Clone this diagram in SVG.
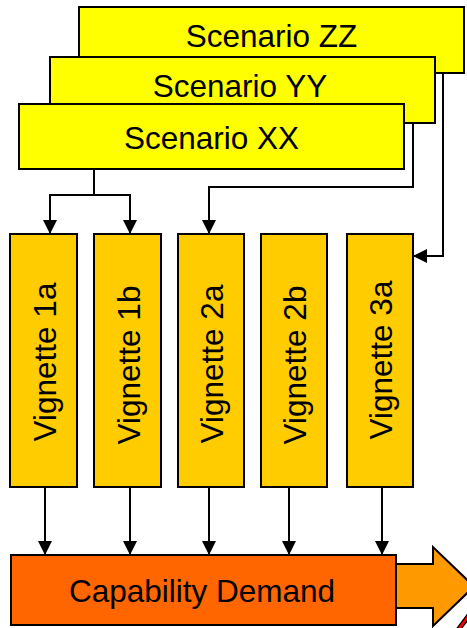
<svg xmlns="http://www.w3.org/2000/svg" width="467" height="628" viewBox="0 0 467 628">
<style>
.box{stroke:#000;stroke-width:2}
.scn{fill:#FFFF00}
.vig{fill:#FFCC00}
.t{font-family:"Liberation Sans",Arial,sans-serif;font-size:31.5px;fill:#000;text-anchor:middle}
.c{fill:none;stroke:#000;stroke-width:2}
</style>
<defs>
<marker id="ah" markerUnits="userSpaceOnUse" markerWidth="14" markerHeight="14" refX="14" refY="7" orient="auto">
<path d="M0,0 L14,7 L0,14 z" fill="#000"/>
</marker>
</defs>
<rect width="467" height="628" fill="#fff"/>
<g id="scenarioZZ">
<rect class="box scn" x="79" y="7" width="385" height="66"/>
<text class="t" x="271.5" y="47">Scenario ZZ</text>
</g>
<g id="scenarioYY">
<rect class="box scn" x="50" y="57" width="385" height="66"/>
<text class="t" x="240" y="97">Scenario YY</text>
</g>
<g id="scenarioXX">
<rect class="box scn" x="19" y="104" width="385" height="65"/>
<text class="t" x="211.5" y="149">Scenario XX</text>
</g>
<g id="vignette1a">
<rect class="box vig" x="10" y="234" width="67" height="253"/>
<text class="t" x="56" y="362" transform="rotate(-90 56 362)">Vignette 1a</text>
</g>
<g id="vignette1b">
<rect class="box vig" x="94" y="234" width="67" height="253"/>
<text class="t" x="140" y="365" transform="rotate(-90 140 365)">Vignette 1b</text>
</g>
<g id="vignette2a">
<rect class="box vig" x="178" y="234" width="66" height="253"/>
<text class="t" x="223" y="364" transform="rotate(-90 223 364)">Vignette 2a</text>
</g>
<g id="vignette2b">
<rect class="box vig" x="261" y="234" width="66" height="253"/>
<text class="t" x="306" y="365" transform="rotate(-90 306 365)">Vignette 2b</text>
</g>
<g id="vignette3a">
<rect class="box vig" x="347" y="234" width="66" height="253"/>
<text class="t" x="392" y="360" transform="rotate(-90 392 360)">Vignette 3a</text>
</g>
<g id="outputArrow">
<path d="M395,564 H433 V547 L474,586.5 L433,626 V608 H395 z" fill="#FF9900" stroke="#000" stroke-width="2"/>
<path d="M458,630 L470,614" stroke="#000" stroke-width="5"/>
<path d="M458,630 L470,614" stroke="#FF0000" stroke-width="2.5"/>
</g>
<g id="capabilityDemand">
<rect class="box" x="11" y="555" width="385" height="70" fill="#FF6600"/>
<text class="t" x="202" y="602">Capability Demand</text>
</g>
<g id="connectors">
<path class="c" d="M94,169 V195 H50 V234" marker-end="url(#ah)"/>
<path class="c" d="M94,195 H130 V234" marker-end="url(#ah)"/>
<path class="c" d="M413,123 V187 H209 V234" marker-end="url(#ah)"/>
<path class="c" d="M443,73 V256 H413" marker-end="url(#ah)"/>
<path class="c" d="M45,487 V555" marker-end="url(#ah)"/>
<path class="c" d="M130,487 V555" marker-end="url(#ah)"/>
<path class="c" d="M209,487 V555" marker-end="url(#ah)"/>
<path class="c" d="M289,487 V555" marker-end="url(#ah)"/>
<path class="c" d="M382,487 V555" marker-end="url(#ah)"/>
</g>
</svg>
